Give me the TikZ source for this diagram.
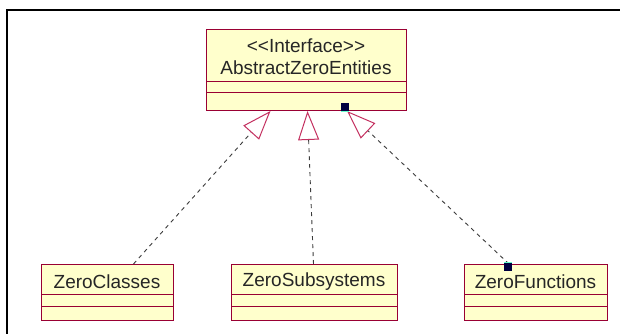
\documentclass[tikz,border=0pt]{standalone}
\usepackage{fontspec}
\setmainfont{Liberation Sans}
\usetikzlibrary{arrows.meta}

\definecolor{classfill}{RGB}{255,255,204}
\definecolor{classedge}{RGB}{153,0,51}
\definecolor{tipred}{RGB}{196,48,96}
\definecolor{dashgray}{RGB}{60,60,60}
\definecolor{handlenavy}{RGB}{0,0,64}
\definecolor{handlecyan}{RGB}{102,255,204}

\begin{document}
\begin{tikzpicture}[x=1pt,y=-1pt,
    classbox/.style={draw=classedge, fill=classfill, line width=1pt, inner sep=0pt, anchor=north west},
    classline/.style={draw=classedge, line width=1pt},
    classname/.style={inner sep=0pt, text=black!85, font=\fontsize{19}{21}\selectfont},
    realize/.style={draw=dashgray, line width=.9pt, dash pattern=on 4pt off 4pt,
        -{Triangle[open, length=29pt, width=21pt, color=tipred, line width=1pt]}},
    handle/.style={fill=handlenavy, minimum size=8pt, inner sep=0pt}]
	\useasboundingbox (0,0) rectangle (620,334);
	\fill[white] (0,0) rectangle (620,334);
	\draw[line width=2pt] (7,334) -- (7,10) -- (620,10);
	
	% interface
	\node[classbox, minimum width=200pt, minimum height=81pt] (entities) at (206,29) {};
	\node[classname] (stereo) at (306,46) {<{}<Interface>{}>};
	\node[classname] (entname) at (306,68) {AbstractZeroEntities};
	\draw[classline] ([yshift=-53pt]entities.north west) -- ([yshift=-53pt]entities.north east);
	\draw[classline] ([yshift=-64pt]entities.north west) -- ([yshift=-64pt]entities.north east);
	
	% implementing classes
	\node[classbox, minimum width=132pt, minimum height=56pt] (classes) at (41,264) {};
	\node[classname] at (107,282) {ZeroClasses};
	\draw[classline] ([yshift=-30pt]classes.north west) -- ([yshift=-30pt]classes.north east);
	\draw[classline] ([yshift=-42pt]classes.north west) -- ([yshift=-42pt]classes.north east);
	
	\node[classbox, minimum width=166pt, minimum height=56pt] (subsystems) at (231,264) {};
	\node[classname] at (314,282) {ZeroSubsystems};
	\draw[classline] ([yshift=-30pt]subsystems.north west) -- ([yshift=-30pt]subsystems.north east);
	\draw[classline] ([yshift=-42pt]subsystems.north west) -- ([yshift=-42pt]subsystems.north east);
	
	\node[classbox, minimum width=143pt, minimum height=56pt] (functions) at (464,264) {};
	\node[classname] at (535.5,282) {ZeroFunctions};
	\draw[classline] ([yshift=-30pt]functions.north west) -- ([yshift=-30pt]functions.north east);
	\draw[classline] ([yshift=-42pt]functions.north west) -- ([yshift=-42pt]functions.north east);
	
	% realizations
	\draw[realize] ([xshift=26pt]classes.north) -- ([xshift=-36pt]entities.south);
	\draw[realize] ([xshift=-1pt]subsystems.north) -- ([xshift=1pt]entities.south);
	\coordinate (fnend) at ([xshift=-27pt]functions.north);
	\coordinate (fntip) at ([xshift=40.5pt]entities.south);
	\draw[realize] (fnend) -- (fntip);
	
	\node[handle] (tophandle) at ([xshift=-2pt,yshift=3.5pt]fntip) {};
	\draw[handlecyan, line width=1.2pt] (tophandle.south west) -- (tophandle.south east);
	\node[handle] (bothandle) at ([xshift=-1pt,yshift=-3pt]fnend) {};
	\draw[handlecyan, line width=1.2pt] (bothandle.north west) -- (bothandle.north east);
\end{tikzpicture}
\end{document}
